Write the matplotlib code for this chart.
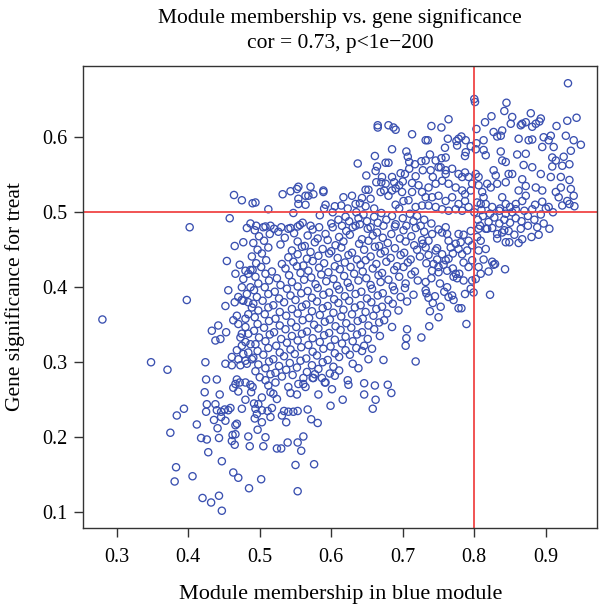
import matplotlib
matplotlib.use("Agg")
import matplotlib.pyplot as plt

plt.rcParams['font.family'] = ['Liberation Serif', 'DejaVu Serif']

# module membership (x) vs gene significance (y)
lower_left = [
    (0.280, 0.357), (0.348, 0.300), (0.371, 0.290), (0.398, 0.383), (0.424, 0.300), (0.402, 0.480),
    (0.394, 0.238), (0.384, 0.229), (0.375, 0.206), (0.412, 0.217), (0.423, 0.260), (0.444, 0.257),
    (0.426, 0.244), (0.425, 0.234), (0.438, 0.244), (0.440, 0.236), (0.446, 0.234), (0.451, 0.237),
    (0.456, 0.236), (0.459, 0.239), (0.436, 0.223), (0.446, 0.227), (0.452, 0.222), (0.441, 0.212),
    (0.418, 0.199), (0.426, 0.197), (0.443, 0.199), (0.462, 0.203), (0.466, 0.204), (0.461, 0.195),
    (0.465, 0.190), (0.428, 0.180), (0.447, 0.168), (0.383, 0.160), (0.381, 0.141), (0.406, 0.148),
    (0.463, 0.153), (0.470, 0.146), (0.420, 0.119), (0.432, 0.113), (0.443, 0.122), (0.447, 0.102),
    (0.485, 0.132), (0.486, 0.188), (0.484, 0.201), (0.475, 0.238), (0.468, 0.218), (0.466, 0.216),
    (0.463, 0.266), (0.470, 0.261), (0.466, 0.271), (0.472, 0.273), (0.490, 0.267), (0.488, 0.260),
    (0.487, 0.270), (0.425, 0.277), (0.440, 0.277), (0.468, 0.277), (0.480, 0.273),
    (0.493, 0.225), (0.497, 0.210), (0.480, 0.250), (0.492, 0.245),
]

lower_mid = [
    (0.567, 0.237), (0.572, 0.224), (0.581, 0.219), (0.582, 0.257), (0.601, 0.264), (0.599, 0.242),
    (0.616, 0.250), (0.591, 0.273), (0.574, 0.279), (0.623, 0.276), (0.624, 0.270), (0.646, 0.272),
    (0.646, 0.257), (0.661, 0.269), (0.662, 0.250), (0.658, 0.238), (0.679, 0.270), (0.684, 0.259),
    (0.561, 0.201), (0.553, 0.193), (0.558, 0.182), (0.539, 0.193), (0.524, 0.185), (0.530, 0.185),
    (0.508, 0.200), (0.505, 0.188), (0.550, 0.163), (0.576, 0.164), (0.502, 0.144), (0.553, 0.128),
    (0.503, 0.220), (0.515, 0.227), (0.537, 0.220), (0.531, 0.229), (0.540, 0.234), (0.547, 0.234),
    (0.553, 0.235), (0.534, 0.235), (0.517, 0.239), (0.511, 0.235), (0.543, 0.259), (0.552, 0.257),
    (0.540, 0.267), (0.554, 0.271), (0.564, 0.267), (0.561, 0.271), (0.575, 0.279), (0.587, 0.279),
    (0.592, 0.273), (0.512, 0.269), (0.522, 0.273), (0.508, 0.276), (0.519, 0.258), (0.524, 0.251),
    (0.503, 0.253), (0.498, 0.244), (0.494, 0.238), (0.503, 0.236), (0.496, 0.231), (0.515, 0.260),
]

left_band = [
    (0.480, 0.422), (0.487, 0.423), (0.484, 0.418), (0.477, 0.411), (0.475, 0.400), (0.487, 0.400),
    (0.482, 0.391), (0.470, 0.387), (0.477, 0.382), (0.484, 0.380), (0.489, 0.373), (0.484, 0.364),
    (0.480, 0.358), (0.468, 0.362), (0.463, 0.356), (0.470, 0.351), (0.480, 0.347), (0.475, 0.338),
    (0.484, 0.338), (0.473, 0.333), (0.480, 0.327), (0.487, 0.324), (0.475, 0.322), (0.468, 0.316),
    (0.477, 0.311), (0.484, 0.313), (0.461, 0.307), (0.470, 0.304), (0.480, 0.302), (0.489, 0.304),
    (0.452, 0.298), (0.461, 0.296), (0.473, 0.296), (0.482, 0.298), (0.433, 0.342), (0.442, 0.349),
    (0.438, 0.329), (0.445, 0.331), (0.453, 0.340), (0.482, 0.479), (0.465, 0.455), (0.477, 0.460),
    (0.454, 0.435), (0.472, 0.430), (0.466, 0.418), (0.456, 0.396), (0.452, 0.375), (0.465, 0.380),
    (0.475, 0.383), (0.464, 0.523), (0.475, 0.516), (0.490, 0.512), (0.458, 0.492),
]

core_upper = [
    (0.493, 0.476), (0.508, 0.481), (0.526, 0.474), (0.543, 0.479), (0.556, 0.483), (0.574, 0.477),
    (0.602, 0.480), (0.621, 0.475), (0.634, 0.482), (0.651, 0.478), (0.664, 0.473), (0.689, 0.481),
    (0.701, 0.476), (0.718, 0.479), (0.730, 0.474), (0.499, 0.468), (0.514, 0.471), (0.535, 0.466),
    (0.548, 0.472), (0.567, 0.469), (0.581, 0.465), (0.592, 0.471), (0.611, 0.467), (0.626, 0.470),
    (0.643, 0.464), (0.658, 0.469), (0.672, 0.466), (0.684, 0.471), (0.696, 0.465), (0.712, 0.468),
    (0.727, 0.463), (0.491, 0.459), (0.506, 0.462), (0.529, 0.457), (0.553, 0.461), (0.563, 0.455),
    (0.577, 0.460), (0.595, 0.463), (0.606, 0.456), (0.617, 0.461), (0.639, 0.458), (0.652, 0.462),
    (0.667, 0.455), (0.679, 0.459), (0.704, 0.461), (0.716, 0.456), (0.728, 0.458), (0.497, 0.450),
    (0.512, 0.453), (0.545, 0.449), (0.559, 0.454), (0.571, 0.447), (0.588, 0.451), (0.600, 0.448),
    (0.614, 0.453), (0.629, 0.446), (0.646, 0.450), (0.661, 0.454), (0.675, 0.448), (0.689, 0.452),
    (0.702, 0.446), (0.720, 0.450), (0.489, 0.441), (0.503, 0.445), (0.540, 0.440), (0.553, 0.444),
    (0.566, 0.438), (0.582, 0.442), (0.597, 0.445), (0.609, 0.439), (0.624, 0.443), (0.636, 0.437),
    (0.655, 0.441), (0.669, 0.445), (0.683, 0.439), (0.697, 0.443), (0.711, 0.437), (0.724, 0.441),
    (0.495, 0.432), (0.509, 0.436), (0.531, 0.431), (0.547, 0.434), (0.561, 0.429), (0.574, 0.435),
    (0.590, 0.432), (0.605, 0.428), (0.619, 0.433), (0.641, 0.430), (0.648, 0.436), (0.663, 0.431),
    (0.677, 0.434), (0.692, 0.428), (0.707, 0.433), (0.490, 0.423), (0.502, 0.427), (0.517, 0.421),
    (0.536, 0.425), (0.552, 0.428), (0.568, 0.422), (0.583, 0.426), (0.596, 0.420), (0.612, 0.424),
    (0.627, 0.427), (0.644, 0.421), (0.658, 0.425), (0.671, 0.419), (0.688, 0.423), (0.701, 0.427),
    (0.717, 0.421), (0.494, 0.414), (0.508, 0.418), (0.524, 0.412), (0.541, 0.416), (0.557, 0.419),
    (0.572, 0.413), (0.586, 0.417), (0.603, 0.411), (0.618, 0.415), (0.632, 0.418), (0.649, 0.412),
    (0.666, 0.416), (0.680, 0.410), (0.695, 0.414), (0.712, 0.417), (0.498, 0.405), (0.513, 0.409),
    (0.529, 0.403), (0.545, 0.407), (0.562, 0.410), (0.578, 0.404), (0.593, 0.408), (0.608, 0.402),
    (0.623, 0.406), (0.638, 0.409), (0.655, 0.403), (0.669, 0.407), (0.686, 0.401), (0.704, 0.405),
    (0.721, 0.409),
]

core_middle = [
    (0.492, 0.396), (0.507, 0.400), (0.521, 0.394), (0.538, 0.398), (0.553, 0.401), (0.567, 0.395),
    (0.581, 0.399), (0.597, 0.393), (0.611, 0.397), (0.626, 0.400), (0.642, 0.394), (0.657, 0.398),
    (0.672, 0.392), (0.688, 0.396), (0.703, 0.399), (0.496, 0.387), (0.512, 0.391), (0.527, 0.385),
    (0.543, 0.389), (0.558, 0.392), (0.573, 0.386), (0.589, 0.390), (0.604, 0.384), (0.619, 0.388),
    (0.634, 0.391), (0.650, 0.385), (0.665, 0.389), (0.680, 0.383), (0.697, 0.387), (0.715, 0.390),
    (0.491, 0.378), (0.504, 0.382), (0.519, 0.376), (0.534, 0.380), (0.550, 0.383), (0.565, 0.377),
    (0.580, 0.381), (0.595, 0.375), (0.610, 0.379), (0.625, 0.382), (0.641, 0.376), (0.656, 0.380),
    (0.671, 0.374), (0.686, 0.378), (0.706, 0.381), (0.498, 0.369), (0.512, 0.373), (0.528, 0.367),
    (0.545, 0.371), (0.559, 0.374), (0.573, 0.368), (0.588, 0.372), (0.603, 0.366), (0.617, 0.370),
    (0.633, 0.373), (0.648, 0.367), (0.663, 0.371), (0.678, 0.365), (0.694, 0.369), (0.493, 0.360),
    (0.507, 0.364), (0.522, 0.358), (0.537, 0.362), (0.553, 0.365), (0.569, 0.359), (0.584, 0.363),
    (0.598, 0.357), (0.614, 0.361), (0.629, 0.364), (0.644, 0.358), (0.659, 0.362), (0.674, 0.356),
    (0.497, 0.351), (0.513, 0.355), (0.528, 0.349), (0.544, 0.353), (0.560, 0.356), (0.576, 0.350),
    (0.591, 0.354), (0.606, 0.348), (0.621, 0.352), (0.637, 0.355), (0.652, 0.349), (0.667, 0.353),
    (0.685, 0.347), (0.492, 0.342), (0.506, 0.346), (0.520, 0.340), (0.536, 0.344), (0.551, 0.347),
    (0.566, 0.341), (0.582, 0.345), (0.597, 0.339), (0.613, 0.343), (0.628, 0.346), (0.643, 0.340),
    (0.660, 0.344), (0.499, 0.333), (0.514, 0.337), (0.530, 0.331), (0.545, 0.335), (0.559, 0.338),
    (0.574, 0.332), (0.590, 0.336), (0.605, 0.330), (0.620, 0.334), (0.636, 0.337), (0.651, 0.331),
    (0.668, 0.335),
]

core_lower = [
    (0.494, 0.324), (0.508, 0.328), (0.523, 0.322), (0.538, 0.326), (0.553, 0.329), (0.568, 0.323),
    (0.584, 0.327), (0.599, 0.321), (0.615, 0.325), (0.630, 0.328), (0.646, 0.322), (0.497, 0.315),
    (0.512, 0.319), (0.528, 0.313), (0.543, 0.317), (0.558, 0.320), (0.574, 0.314), (0.589, 0.318),
    (0.605, 0.312), (0.620, 0.316), (0.635, 0.319), (0.491, 0.306), (0.505, 0.310), (0.519, 0.304),
    (0.534, 0.308), (0.549, 0.311), (0.565, 0.305), (0.580, 0.309), (0.595, 0.303), (0.611, 0.307),
    (0.626, 0.310), (0.652, 0.304), (0.498, 0.297), (0.513, 0.301), (0.527, 0.295), (0.542, 0.299),
    (0.557, 0.302), (0.573, 0.296), (0.588, 0.300), (0.603, 0.294), (0.630, 0.298), (0.494, 0.288),
    (0.508, 0.292), (0.522, 0.286), (0.537, 0.290), (0.552, 0.293), (0.566, 0.287), (0.582, 0.291),
    (0.598, 0.285), (0.611, 0.289), (0.638, 0.292), (0.500, 0.280), (0.515, 0.284), (0.531, 0.281),
    (0.546, 0.283), (0.561, 0.279), (0.577, 0.284), (0.605, 0.282), (0.706, 0.344), (0.705, 0.332),
    (0.704, 0.322), (0.726, 0.333), (0.718, 0.301), (0.673, 0.303), (0.657, 0.318), (0.643, 0.315),
]

upper_mid = [
    (0.665, 0.616), (0.665, 0.613), (0.680, 0.616), (0.687, 0.613), (0.690, 0.610), (0.713, 0.604),
    (0.732, 0.596), (0.685, 0.584), (0.661, 0.575), (0.637, 0.565), (0.649, 0.549), (0.662, 0.555),
    (0.664, 0.561), (0.676, 0.566), (0.680, 0.566), (0.705, 0.581), (0.707, 0.574), (0.709, 0.567),
    (0.717, 0.564), (0.726, 0.568), (0.703, 0.551), (0.671, 0.547), (0.685, 0.547), (0.688, 0.540),
    (0.676, 0.538), (0.674, 0.529), (0.685, 0.529), (0.695, 0.536), (0.699, 0.527), (0.713, 0.539),
    (0.722, 0.536), (0.727, 0.527), (0.713, 0.527), (0.708, 0.516), (0.701, 0.515), (0.727, 0.509),
    (0.718, 0.507), (0.680, 0.522), (0.669, 0.527), (0.655, 0.518), (0.643, 0.519), (0.634, 0.511),
    (0.629, 0.522), (0.617, 0.520), (0.614, 0.509), (0.532, 0.524), (0.543, 0.528), (0.552, 0.531),
    (0.554, 0.534), (0.571, 0.534), (0.589, 0.529), (0.589, 0.527), (0.568, 0.522), (0.564, 0.522),
    (0.554, 0.518), (0.554, 0.511), (0.564, 0.510), (0.575, 0.524), (0.592, 0.510), (0.494, 0.513),
    (0.512, 0.504), (0.547, 0.499), (0.584, 0.496), (0.623, 0.505), (0.640, 0.512), (0.652, 0.530),
    (0.663, 0.540), (0.690, 0.532), (0.700, 0.541), (0.718, 0.548), (0.728, 0.556), (0.709, 0.558),
    (0.697, 0.552), (0.670, 0.540), (0.648, 0.530), (0.605, 0.508), (0.590, 0.505),
    (0.487, 0.485), (0.495, 0.482), (0.505, 0.480), (0.515, 0.482), (0.520, 0.478), (0.530, 0.480),
    (0.540, 0.478), (0.553, 0.481), (0.560, 0.486), (0.571, 0.482), (0.583, 0.480), (0.600, 0.485),
    (0.610, 0.490), (0.615, 0.482), (0.620, 0.494), (0.625, 0.488), (0.630, 0.480), (0.638, 0.492),
    (0.640, 0.484), (0.645, 0.497), (0.650, 0.488), (0.655, 0.480), (0.660, 0.494), (0.665, 0.486),
    (0.670, 0.499), (0.673, 0.482), (0.677, 0.490), (0.685, 0.495), (0.690, 0.484), (0.695, 0.505),
    (0.700, 0.492), (0.705, 0.482), (0.710, 0.498), (0.715, 0.488), (0.720, 0.495), (0.725, 0.482),
    (0.730, 0.490), (0.660, 0.505), (0.648, 0.508), (0.635, 0.500), (0.690, 0.510), (0.602, 0.500),
]

right_mid = [
    (0.890, 0.470), (0.880, 0.467), (0.867, 0.464), (0.862, 0.459), (0.849, 0.460), (0.844, 0.460),
    (0.843, 0.424), (0.822, 0.390), (0.827, 0.430), (0.829, 0.431), (0.825, 0.434), (0.820, 0.421),
    (0.813, 0.437), (0.816, 0.451), (0.806, 0.449), (0.809, 0.462), (0.804, 0.467), (0.806, 0.478),
    (0.816, 0.478), (0.825, 0.479), (0.832, 0.471), (0.832, 0.465), (0.839, 0.473), (0.842, 0.476),
    (0.806, 0.427), (0.809, 0.418), (0.802, 0.411), (0.797, 0.409), (0.799, 0.393), (0.795, 0.398),
    (0.787, 0.391), (0.789, 0.351), (0.782, 0.372), (0.778, 0.372), (0.764, 0.387), (0.771, 0.383),
    (0.769, 0.389), (0.753, 0.374), (0.742, 0.379), (0.736, 0.386), (0.737, 0.348), (0.732, 0.396),
    (0.785, 0.409), (0.776, 0.412), (0.774, 0.418), (0.771, 0.414), (0.762, 0.422), (0.750, 0.420),
    (0.741, 0.422), (0.732, 0.407), (0.797, 0.436), (0.792, 0.427), (0.785, 0.433), (0.783, 0.444),
    (0.778, 0.451), (0.774, 0.458), (0.767, 0.453), (0.764, 0.462), (0.762, 0.471), (0.755, 0.473),
    (0.750, 0.477), (0.741, 0.471), (0.736, 0.462), (0.732, 0.453), (0.746, 0.449), (0.755, 0.444),
    (0.764, 0.438), (0.778, 0.471), (0.781, 0.460), (0.792, 0.462), (0.797, 0.456), (0.790, 0.449),
    (0.743, 0.431), (0.750, 0.427), (0.760, 0.436), (0.736, 0.443), (0.748, 0.437), (0.757, 0.430),
    (0.770, 0.425), (0.779, 0.418), (0.740, 0.412), (0.752, 0.405), (0.762, 0.400), (0.733, 0.392),
    (0.745, 0.388), (0.758, 0.394), (0.738, 0.368), (0.750, 0.360), (0.733, 0.432), (0.748, 0.452),
    (0.770, 0.445), (0.785, 0.470), (0.795, 0.475), (0.760, 0.480), (0.740, 0.485),
]

upper_right = [
    (0.931, 0.672), (0.800, 0.651), (0.801, 0.647), (0.845, 0.646), (0.842, 0.635), (0.879, 0.632),
    (0.893, 0.625), (0.891, 0.621), (0.886, 0.618), (0.881, 0.614), (0.872, 0.620), (0.867, 0.618),
    (0.865, 0.616), (0.853, 0.627), (0.851, 0.618), (0.943, 0.626), (0.930, 0.622), (0.915, 0.615),
    (0.824, 0.628), (0.815, 0.620), (0.803, 0.611), (0.788, 0.596), (0.764, 0.624), (0.754, 0.613),
    (0.740, 0.615), (0.735, 0.596), (0.763, 0.598), (0.778, 0.598), (0.782, 0.601), (0.775, 0.595),
    (0.738, 0.577), (0.754, 0.572), (0.759, 0.586), (0.753, 0.560), (0.760, 0.551), (0.787, 0.575),
    (0.795, 0.588), (0.803, 0.592), (0.813, 0.596), (0.827, 0.607), (0.832, 0.601), (0.839, 0.609),
    (0.837, 0.602), (0.813, 0.583), (0.816, 0.576), (0.837, 0.581), (0.839, 0.569), (0.844, 0.567),
    (0.860, 0.577), (0.872, 0.578), (0.862, 0.598), (0.876, 0.596), (0.881, 0.597), (0.897, 0.600),
    (0.907, 0.602), (0.904, 0.596), (0.895, 0.587), (0.911, 0.587), (0.909, 0.573), (0.914, 0.569),
    (0.925, 0.574), (0.928, 0.602), (0.939, 0.596), (0.949, 0.590), (0.935, 0.582), (0.869, 0.563),
    (0.881, 0.560), (0.893, 0.551), (0.907, 0.547), (0.923, 0.562), (0.933, 0.564), (0.909, 0.561),
    (0.921, 0.547), (0.933, 0.543), (0.921, 0.533), (0.935, 0.531), (0.914, 0.527), (0.939, 0.522),
    (0.933, 0.511), (0.923, 0.509), (0.904, 0.507), (0.895, 0.529), (0.886, 0.533), (0.872, 0.535),
    (0.867, 0.544), (0.853, 0.551), (0.848, 0.551), (0.844, 0.540), (0.862, 0.529), (0.872, 0.522),
    (0.858, 0.511), (0.844, 0.511), (0.867, 0.515), (0.858, 0.504), (0.881, 0.504), (0.853, 0.500),
    (0.827, 0.556), (0.830, 0.549), (0.818, 0.538), (0.823, 0.533), (0.806, 0.536), (0.811, 0.527),
    (0.813, 0.520), (0.809, 0.511), (0.804, 0.513), (0.816, 0.511), (0.825, 0.507), (0.835, 0.502),
    (0.839, 0.520), (0.832, 0.538), (0.844, 0.498), (0.802, 0.551), (0.806, 0.547),
    (0.739, 0.556), (0.750, 0.560), (0.760, 0.556), (0.769, 0.558), (0.778, 0.551), (0.783, 0.547),
    (0.787, 0.553), (0.742, 0.547), (0.736, 0.533), (0.746, 0.538), (0.755, 0.542), (0.764, 0.538),
    (0.774, 0.533), (0.783, 0.529), (0.787, 0.524), (0.795, 0.529), (0.797, 0.538), (0.792, 0.547),
    (0.732, 0.520), (0.741, 0.520), (0.750, 0.522), (0.760, 0.515), (0.769, 0.520), (0.778, 0.511),
    (0.787, 0.515), (0.746, 0.507), (0.736, 0.509), (0.755, 0.504), (0.764, 0.502), (0.774, 0.504),
    (0.792, 0.507), (0.783, 0.502), (0.802, 0.584), (0.788, 0.580), (0.776, 0.589), (0.760, 0.573),
    (0.746, 0.569), (0.732, 0.569),
    (0.805, 0.490), (0.812, 0.495), (0.820, 0.487), (0.828, 0.493), (0.835, 0.485), (0.842, 0.490),
    (0.850, 0.486), (0.858, 0.492), (0.866, 0.488), (0.875, 0.495), (0.884, 0.490), (0.893, 0.497),
    (0.900, 0.505), (0.910, 0.500), (0.808, 0.482), (0.818, 0.478), (0.848, 0.475), (0.856, 0.470),
    (0.865, 0.478), (0.875, 0.482), (0.888, 0.480), (0.897, 0.485), (0.905, 0.478), (0.800, 0.500),
    (0.810, 0.503), (0.822, 0.498), (0.836, 0.505), (0.850, 0.507), (0.870, 0.502), (0.885, 0.510),
    (0.895, 0.514), (0.918, 0.520), (0.930, 0.515), (0.940, 0.508),
]

groups = [lower_left, lower_mid, left_band, core_upper, core_middle, core_lower,
          upper_mid, right_mid, upper_right]
mm = [p[0] for g in groups for p in g]
gs = [p[1] for g in groups for p in g]

fig = plt.figure(figsize=(6, 6.05), dpi=100)
ax = fig.add_axes([0.1385, 0.1273, 0.857, 0.7636])

ax.scatter(mm, gs, s=27, facecolors='none', edgecolors='#3a50b0', linewidths=0.95)
ax.axvline(0.8, color='#f04545', lw=1.3)
ax.axhline(0.5, color='#f04545', lw=1.3)

ax.set_xlim(0.253, 0.972)
ax.set_ylim(0.079, 0.695)
ax.set_xticks([0.3, 0.4, 0.5, 0.6, 0.7, 0.8, 0.9])
ax.set_yticks([0.1, 0.2, 0.3, 0.4, 0.5, 0.6])
ax.tick_params(direction='out', length=6.5, width=1, color='#333333', labelsize=14.5)
ax.tick_params(axis='x', pad=8)
ax.tick_params(axis='y', pad=5)
for sp in ax.spines.values():
    sp.set_color('#333333')
    sp.set_linewidth(1)

ax.set_title('Module membership vs. gene significance\ncor = 0.73, p<1e\u2212200',
             fontsize=15.5, linespacing=1.45, pad=13)
ax.set_xlabel('Module membership in blue module', fontsize=16, labelpad=13)
ax.set_ylabel('Gene significance for treat', fontsize=15.5, labelpad=12)

fig.savefig('out.png', dpi=100)
